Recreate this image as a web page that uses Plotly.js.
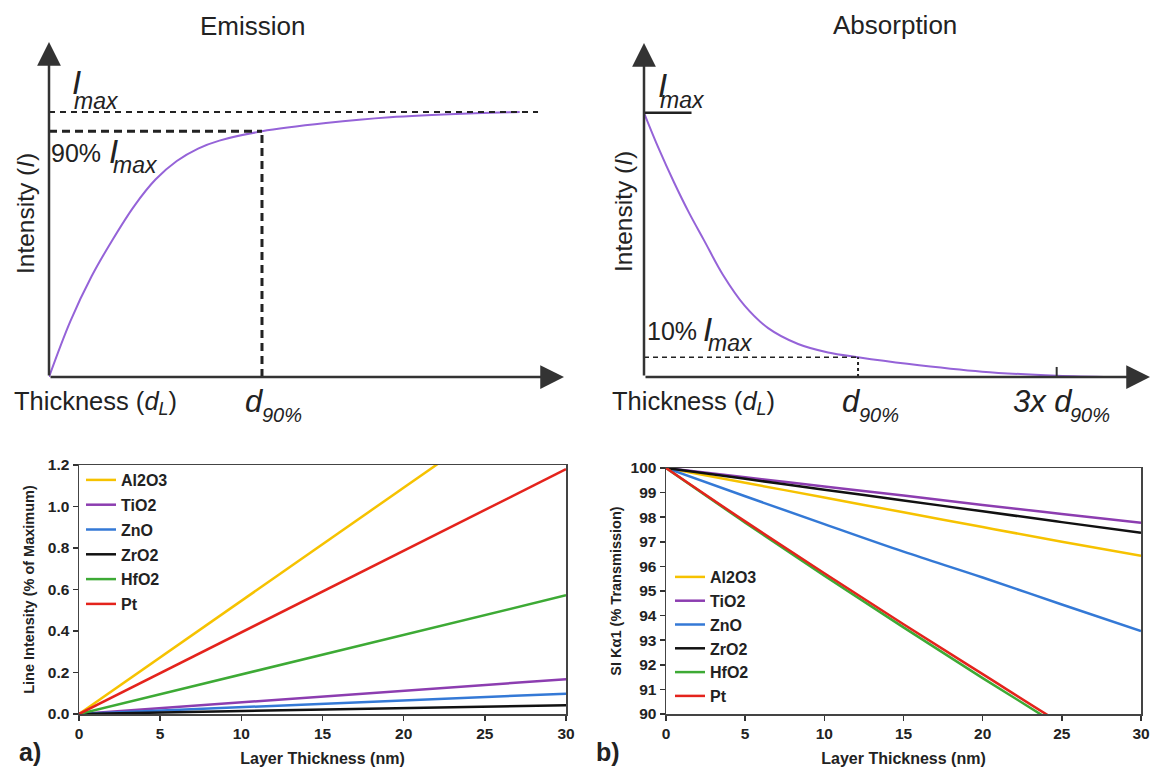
<!DOCTYPE html>
<html><head><meta charset="utf-8">
<script src="https://cdn.plot.ly/plotly-3.0.1.min.js"></script>
<style>html,body{margin:0;padding:0;background:#fff}#chart{width:1154px;height:768px}</style>
</head><body><div id="chart"></div>
<script>
// ---- schematic curves (x in units of d90, y in units of Imax)
const emissionX = [0, 0.10, 0.20, 0.30, 0.40, 0.50, 0.60, 0.70, 0.80, 1.00, 1.30, 1.60, 2.00, 2.21];
const emissionY = [0, 0.21, 0.38, 0.52, 0.645, 0.745, 0.815, 0.862, 0.892, 0.927, 0.958, 0.980, 0.995, 1.0];
const absorptionX = [0, 0.07, 0.14, 0.21, 0.28, 0.37, 0.47, 0.58, 0.72, 0.86, 1.00, 1.23, 1.58, 1.93, 2.19];
const absorptionY = [1, 0.862, 0.737, 0.622, 0.518, 0.385, 0.27, 0.185, 0.125, 0.093, 0.075, 0.05, 0.02, 0.005, 0];
const emissionMaxLevel = 1.0, emissionD90Level = 0.927, emissionD90 = 1.0, emissionDashEnd = 2.296;
const absorptionMaxLevel = 1.0, absorptionD90Level = 0.075, absorptionD90 = 1.0, absorption3xD90 = 1.928;

// ---- panel a / b data
const thickness = [0, 5, 10, 15, 20, 25, 30];
const materials = ['Al2O3', 'TiO2', 'ZnO', 'ZrO2', 'HfO2', 'Pt'];
const colors = ['#F6C200', '#8C3DB0', '#3479D6', '#111111', '#3DAA35', '#E4231C'];
const emissionA = {
  Al2O3: [0, 0.273, 0.545, 0.818, 1.091, 1.364, 1.636],
  TiO2:  [0, 0.028, 0.056, 0.084, 0.112, 0.140, 0.168],
  ZnO:   [0, 0.016, 0.033, 0.049, 0.065, 0.082, 0.098],
  ZrO2:  [0, 0.007, 0.014, 0.021, 0.028, 0.035, 0.042],
  HfO2:  [0, 0.095, 0.190, 0.286, 0.381, 0.476, 0.572],
  Pt:    [0, 0.197, 0.393, 0.590, 0.787, 0.983, 1.180]
};
const transmissionB = {
  Al2O3: [100, 99.40, 98.80, 98.20, 97.60, 97.00, 96.43],
  TiO2:  [100, 99.62, 99.25, 98.88, 98.50, 98.13, 97.77],
  ZnO:   [100, 98.85, 97.72, 96.60, 95.55, 94.45, 93.37],
  ZrO2:  [100, 99.56, 99.12, 98.68, 98.24, 97.80, 97.37],
  HfO2:  [100, 97.78, 95.62, 93.52, 91.46, 89.45, 87.50],
  Pt:    [100, 97.83, 95.72, 93.65, 91.62, 89.60, 87.70]
};
const xTicks = [0, 5, 10, 15, 20, 25, 30];

const W = 1154, H = 768;
const px = x => x / W, py = y => 1 - y / H;
const NARROW = '"Liberation Sans Narrow", "Arial Narrow", "Liberation Sans", Arial, sans-serif';
const SANS = '"Liberation Sans", Arial, sans-serif';
const INK = '#222';
const PURPLE = '#9563d8';

const traces = [
  {x: emissionX, y: emissionY, xaxis: 'x', yaxis: 'y', mode: 'lines', line: {color: PURPLE, width: 2, shape: 'spline'}, showlegend: false, hoverinfo: 'skip'},
  {x: absorptionX, y: absorptionY, xaxis: 'x2', yaxis: 'y2', mode: 'lines', line: {color: PURPLE, width: 2, shape: 'spline'}, showlegend: false, hoverinfo: 'skip'}
];
materials.forEach((m, i) => {
  traces.push({x: thickness, y: emissionA[m], name: m, xaxis: 'x3', yaxis: 'y3', mode: 'lines',
    line: {color: colors[i], width: 2.5}, legend: 'legend', legendgroup: m + 'a'});
});
materials.forEach((m, i) => {
  traces.push({x: thickness, y: transmissionB[m], name: m, xaxis: 'x4', yaxis: 'y4', mode: 'lines',
    line: {color: colors[i], width: 2.5, shape: 'spline'}, legend: 'legend2', legendgroup: m + 'b'});
});

const hidden = {visible: false, showgrid: false, zeroline: false, fixedrange: true};
const tickFont = {family: SANS, size: 15.5, weight: 'bold', color: INK};
const titleFont = {family: SANS, size: 16, weight: 'bold', color: INK};
const yTitleFont = {family: SANS, size: 14.5, weight: 'bold', color: INK};
const legendFont = {family: SANS, size: 16, weight: 'bold', color: INK};
const boxAxis = {showgrid: false, zeroline: false, showline: true, linecolor: '#444', linewidth: 1.5, mirror: true,
  ticks: 'outside', ticklen: 5, tickwidth: 1.5, tickcolor: '#333', tickfont: tickFont, automargin: false};

const annText = (text, x, y, size, opts = {}) => Object.assign({
  text: text, x: px(x), y: py(y), xref: 'paper', yref: 'paper', showarrow: false,
  xanchor: 'center', yanchor: 'middle', font: {family: NARROW, size: size, color: INK}
}, opts);
const axisArrow = (xr, yr, x, y, ax, ay) => ({
  xref: xr, yref: yr, axref: xr, ayref: yr, x: x, y: y, ax: ax, ay: ay, text: '',
  showarrow: true, arrowhead: 2, arrowsize: 1.9, arrowwidth: 2.5, arrowcolor: '#333', standoff: 0, startstandoff: 0
});

const layout = {
  width: W, height: H, margin: {l: 0, r: 0, t: 0, b: 0}, paper_bgcolor: '#fff', plot_bgcolor: 'rgba(0,0,0,0)',
  xaxis: Object.assign({}, hidden, {domain: [px(49), px(564)], range: [0, 2.418], anchor: 'y'}),
  yaxis: Object.assign({}, hidden, {domain: [py(377), py(42)], range: [0, 1.264], anchor: 'x'}),
  xaxis2: Object.assign({}, hidden, {domain: [px(644), px(1150)], range: [0, 2.364], anchor: 'y2'}),
  yaxis2: Object.assign({}, hidden, {domain: [py(377), py(43)], range: [0, 1.264], anchor: 'x2'}),
  xaxis3: Object.assign({}, boxAxis, {domain: [px(79), px(566)], range: [0, 30], tickvals: xTicks, anchor: 'y3',
    title: {text: 'Layer Thickness (nm)', font: titleFont, standoff: 11}}),
  yaxis3: Object.assign({}, boxAxis, {domain: [py(714), py(465)], range: [0, 1.2], dtick: 0.2, tickformat: '.1f', anchor: 'x3',
    title: {text: 'Line Intensity (% of Maximum)', font: yTitleFont, standoff: 10}}),
  xaxis4: Object.assign({}, boxAxis, {domain: [px(666), px(1141)], range: [0, 30], tickvals: xTicks, anchor: 'y4',
    title: {text: 'Layer Thickness (nm)', font: titleFont, standoff: 11}}),
  yaxis4: Object.assign({}, boxAxis, {domain: [py(714), py(468)], range: [90, 100], dtick: 1, anchor: 'x4',
    title: {text: 'SI Kα1 (% Transmission)', font: yTitleFont, standoff: 5}}),
  legend: {x: px(81), y: py(463), xanchor: 'left', yanchor: 'top', bgcolor: 'rgba(0,0,0,0)',
    font: legendFont, tracegroupgap: 1, itemwidth: 30},
  legend2: {x: px(670), y: py(560), xanchor: 'left', yanchor: 'top', bgcolor: 'rgba(0,0,0,0)',
    font: legendFont, tracegroupgap: 0, itemwidth: 30},
  shapes: [
    {type: 'line', xref: 'x', yref: 'y', x0: 0, x1: emissionDashEnd, y0: emissionMaxLevel, y1: emissionMaxLevel, line: {color: INK, width: 2, dash: '6px,5px'}},
    {type: 'line', xref: 'x', yref: 'y', x0: 0, x1: emissionD90, y0: emissionD90Level, y1: emissionD90Level, line: {color: INK, width: 3, dash: '8px,5px'}},
    {type: 'line', xref: 'x', yref: 'y', x0: emissionD90, x1: emissionD90, y0: 0, y1: emissionD90Level, line: {color: INK, width: 3, dash: '8px,5px'}},
    {type: 'line', xref: 'x2', yref: 'y2', x0: 0, x1: 0.222, y0: absorptionMaxLevel, y1: absorptionMaxLevel, line: {color: INK, width: 2.5}},
    {type: 'line', xref: 'x2', yref: 'y2', x0: 0, x1: absorptionD90, y0: absorptionD90Level, y1: absorptionD90Level, line: {color: INK, width: 1.5, dash: '5px,4px'}},
    {type: 'line', xref: 'x2', yref: 'y2', x0: absorptionD90, x1: absorptionD90, y0: 0, y1: absorptionD90Level, line: {color: INK, width: 2, dash: '3px,3px'}},
    {type: 'line', xref: 'x2', yref: 'y2', x0: absorption3xD90, x1: absorption3xD90, y0: -0.03, y1: 0.038, line: {color: '#333', width: 2}}
  ],
  annotations: [
    axisArrow('x', 'y', 2.418, 0, 0, 0),
    axisArrow('x', 'y', 0, 1.264, 0, 0),
    axisArrow('x2', 'y2', 2.364, 0, 0, 0),
    axisArrow('x2', 'y2', 0, 1.264, 0, 0),
    annText('Emission', 252, 25.5, 26),
    annText('Absorption', 895, 25, 26),
    annText('Intensity (<i>I</i>)', 26, 214, 24.5, {textangle: -90}),
    annText('Intensity (<i>I</i>)', 623, 212, 24.5, {textangle: -90}),
    annText('<i>I</i>', 76, 82, 33),
    annText('<i>max</i>', 96, 101, 23),
    annText('90%', 76, 152.5, 25),
    annText('<i>I</i>', 113, 151.5, 33),
    annText('<i>max</i>', 135, 165, 23),
    annText('Thickness (<i>d</i><sub><i>L</i></sub>)', 12, 403, 25.5, {xanchor: 'left'}),
    annText('<i>d</i>', 254, 401, 31),
    annText('<i>90%</i>', 282, 415, 20),
    annText('<i>I</i>', 662, 85, 33),
    annText('<i>max</i>', 682, 100, 23),
    annText('10%', 672, 331, 25),
    annText('<i>I</i>', 707, 329, 33),
    annText('<i>max</i>', 730, 343, 23),
    annText('Thickness (<i>d</i><sub><i>L</i></sub>)', 610, 403, 25.5, {xanchor: 'left'}),
    annText('<i>d</i>', 851, 401, 31),
    annText('<i>90%</i>', 879, 415, 20),
    annText('<i>3x d</i>', 1043, 401, 31),
    annText('<i>90%</i>', 1090, 415, 20),
    annText('a)', 30, 752, 25, {font: {family: SANS, size: 25, weight: 'bold', color: INK}}),
    annText('b)', 608, 752, 25, {font: {family: SANS, size: 25, weight: 'bold', color: INK}})
  ]
};

Plotly.newPlot('chart', traces, layout, {staticPlot: true, displayModeBar: false});
</script></body></html>
